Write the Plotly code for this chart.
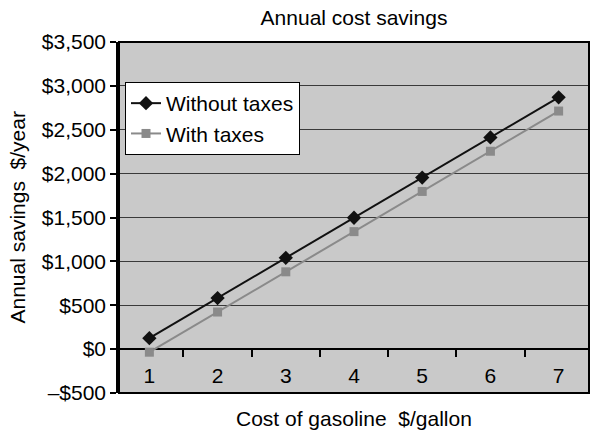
import plotly.graph_objects as go

gas_cost = ["1", "2", "3", "4", "5", "6", "7"]
without_taxes = [125, 582, 1040, 1497, 1955, 2412, 2870]
with_taxes = [-35, 423, 881, 1339, 1797, 2255, 2713]
y_tickvals = [-500, 0, 500, 1000, 1500, 2000, 2500, 3000, 3500]
y_ticktext = ["\u2013$500", "$0", "$500", "$1,000", "$1,500", "$2,000", "$2,500", "$3,000", "$3,500"]

FONT = "Liberation Sans, Arial, sans-serif"
FS = 21

fig = go.Figure()
fig.add_trace(go.Scatter(
    x=gas_cost, y=without_taxes, name="Without taxes", mode="lines+markers",
    line=dict(color="#111111", width=2),
    marker=dict(symbol="diamond", size=11, color="#111111"),
))
fig.add_trace(go.Scatter(
    x=gas_cost, y=with_taxes, name="With taxes", mode="lines+markers",
    line=dict(color="#8a8a8a", width=2),
    marker=dict(symbol="square", size=9, color="#8a8a8a"),
))

ymin, ymax = -500, 3500
zero_pos = (0 - ymin) / (ymax - ymin)

fig.update_layout(
    width=590, height=432,
    margin=dict(l=119, r=1, t=42, b=39, autoexpand=False),
    paper_bgcolor="white",
    plot_bgcolor="#c9c9c9",
    font=dict(family=FONT, size=FS, color="black"),
    title=dict(text="Annual cost savings", x=(119 + 589) / 2 / 590, xanchor="center",
               y=1 - 18 / 432, yanchor="middle", yref="container",
               font=dict(size=FS, family=FONT, color="black")),
    showlegend=True,
    legend=dict(x=6 / 470, y=(393 - 82) / 351, xanchor="left", yanchor="top",
                bgcolor="white", bordercolor="black", borderwidth=1,
                font=dict(size=FS, family=FONT), tracegroupgap=0,
                itemwidth=30),
    xaxis=dict(type="category", anchor="free", position=zero_pos, automargin=False,
               showgrid=False, zeroline=False, showline=False,
               ticks="outside", tickson="boundaries", ticklen=7, tickwidth=1.5,
               tickcolor="black", ticklabelstandoff=12,
               tickfont=dict(size=FS, family=FONT)),
    yaxis=dict(range=[ymin, ymax], tickvals=y_tickvals, ticktext=y_ticktext,
               automargin=False,
               showgrid=True, gridcolor="#3a3a3a", gridwidth=1,
               zeroline=True, zerolinecolor="black", zerolinewidth=2,
               showline=True, linecolor="black", linewidth=2.5,
               ticks="outside", ticklen=6, tickwidth=1.5, tickcolor="black",
               tickfont=dict(size=FS, family=FONT)),
    annotations=[
        dict(text="Cost of gasoline  $/gallon", xref="paper", yref="paper",
             x=0.5, y=-(418 - 393) / 351, xanchor="center", yanchor="middle",
             showarrow=False, font=dict(size=FS, family=FONT)),
        dict(text="Annual savings  $/year", xref="paper", yref="paper",
             x=(17 - 119) / 470, y=0.5, xanchor="center", yanchor="middle",
             textangle=-90, showarrow=False, font=dict(size=FS, family=FONT)),
    ],
    shapes=[dict(type="rect", xref="paper", yref="paper", x0=0, y0=0, x1=1, y1=1,
                 line=dict(color="black", width=2), layer="above")],
)

fig.write_html("out.html", config={"displayModeBar": False},
               post_script="document.body.style.margin='0';document.body.style.padding='0';document.body.style.overflow='hidden';")
